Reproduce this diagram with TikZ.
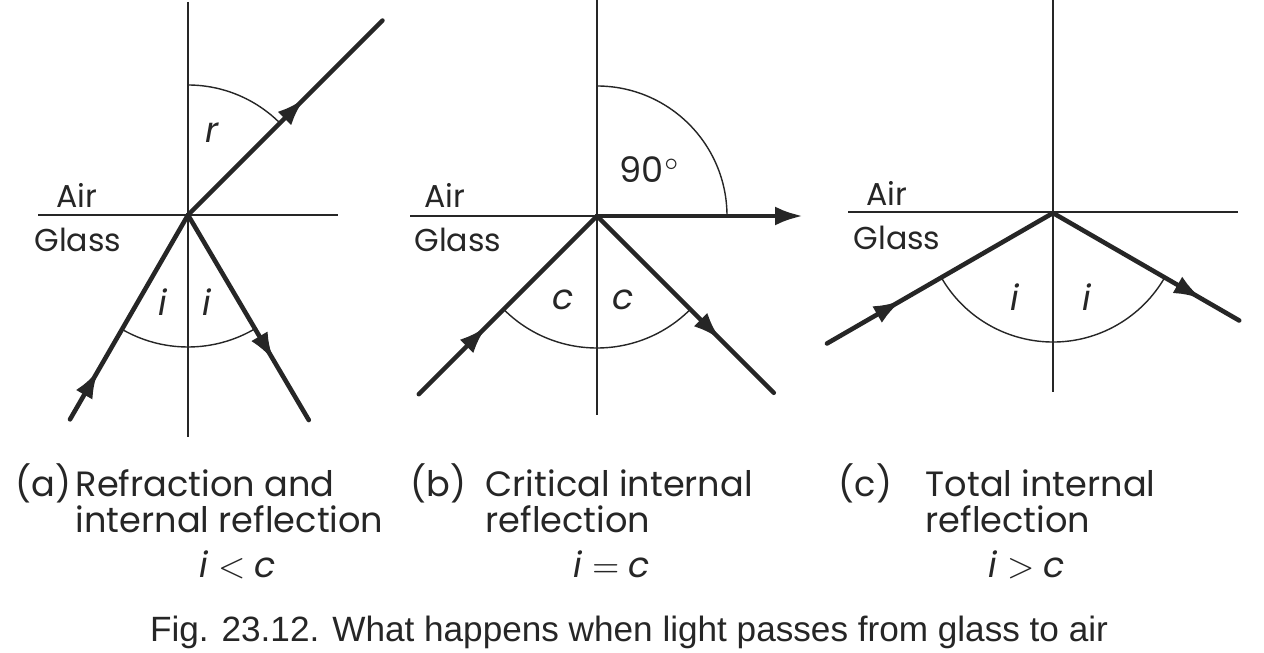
\documentclass[tikz,border=0pt]{standalone}
\usepackage{fontspec}
\setmainfont{Poppins}
\newfontfamily\capfont{Liberation Sans}
\usepackage{tikz}
\usetikzlibrary{calc,arrows.meta,decorations.markings}
\definecolor{paper}{HTML}{FFFFFF}
\definecolor{ink}{HTML}{262626}
\tikzset{
  normalLine/.style={draw=ink, line width=0.6pt},
  arcLine/.style={draw=ink, line width=0.4pt},
  rayLine/.style={draw=ink, line width=1.3pt, line cap=round},
  midArrow/.style={postaction={decorate}, decoration={markings,
    mark=at position #1 with {\arrow{Latex[length=2.8mm,width=1.9mm]}}}},
  lbl/.style={text=ink, font=\fontsize{10}{12}\selectfont, inner sep=0pt},
  mediumLbl/.style={text=ink, font=\fontsize{9}{11}\selectfont, inner sep=0pt},
  capLbl/.style={text=ink, font=\capfont\fontsize{10}{12}\selectfont, inner sep=0pt},
}
\begin{document}
\begin{tikzpicture}
  \useasboundingbox[fill=paper] (0,0) rectangle (12.64,6.52);

  % (a) refraction and internal reflection
  \coordinate (Oa) at (1.88,4.37);
  \draw[normalLine] (1.88,6.50) -- (1.88,2.15);
  \draw[normalLine] (0.38,4.37) -- (3.38,4.37);
  \draw[arcLine] ($(Oa)+(90:1.30)$) arc[start angle=90, end angle=45, radius=1.30];
  \draw[arcLine] ($(Oa)+(240:1.32)$) arc[start angle=240, end angle=300, radius=1.32];
  \draw[rayLine, midArrow=0.24] ($(Oa)+(240:2.36)$) -- (Oa);
  \draw[rayLine, midArrow=0.60] (Oa) -- ($(Oa)+(45:2.75)$);
  \draw[rayLine, midArrow=0.71] (Oa) -- ($(Oa)+(300.5:2.38)$);
  \node[mediumLbl] (airA)   at (0.77,4.57) {Air};
  \node[mediumLbl] (glassA) at (0.78,4.12) {Glass};
  \node[lbl] (rA)  at (2.12,5.19) {\textit{r}};
  \node[lbl] (iA1) at (1.63,3.50) {\textit{i}};
  \node[lbl] (iA2) at (2.07,3.50) {\textit{i}};

  % (b) critical internal reflection
  \coordinate (Ob) at (5.97,4.36);
  \draw[normalLine] (5.97,6.52) -- (5.97,2.37);
  \draw[normalLine] (4.10,4.36) -- (Ob);
  \draw[arcLine] ($(Ob)+(90:1.30)$) arc[start angle=90, end angle=0, radius=1.30];
  \draw[arcLine] ($(Ob)+(225:1.32)$) arc[start angle=225, end angle=315, radius=1.32];
  \draw[rayLine, midArrow=0.38] ($(Ob)+(225:2.52)$) -- (Ob);
  \draw[rayLine, -{Latex[length=2.8mm,width=1.9mm]}] (Ob) -- (8.03,4.36);
  \draw[rayLine, midArrow=0.70] (Ob) -- ($(Ob)+(315:2.50)$);
  \node[mediumLbl] (airB)   at (4.45,4.57) {Air};
  \node[mediumLbl] (glassB) at (4.58,4.12) {Glass};
  \node[lbl] (degB) at (6.50,4.82) {90$^\circ$};
  \node[lbl] (cB1) at (5.63,3.52) {\textit{c}};
  \node[lbl] (cB2) at (6.23,3.52) {\textit{c}};

  % (c) total internal reflection
  \coordinate (Oc) at (10.53,4.39);
  \draw[normalLine] (10.53,6.52) -- (10.53,2.60);
  \draw[normalLine] (8.48,4.40) -- (12.38,4.40);
  \draw[arcLine] ($(Oc)+(210:1.29)$) arc[start angle=210, end angle=330, radius=1.29];
  \draw[rayLine, midArrow=0.33] ($(Oc)+(210:2.61)$) -- (Oc);
  \draw[rayLine, midArrow=0.80] (Oc) -- ($(Oc)+(330:2.15)$);
  \node[mediumLbl] (airC)   at (8.87,4.59) {Air};
  \node[mediumLbl] (glassC) at (8.97,4.14) {Glass};
  \node[lbl] (iC1) at (10.15,3.55) {\textit{i}};
  \node[lbl] (iC2) at (10.87,3.55) {\textit{i}};

  % captions of the three cases
  \node[lbl, anchor=base west] (tagA)  at (0.15,1.55) {(a)};
  \node[lbl, anchor=base west] (txtA1) at (0.75,1.55) {Refraction and};
  \node[lbl, anchor=base west] (txtA2) at (0.75,1.20) {internal reflection};
  \node[lbl, anchor=base] (relA) at (2.38,0.75) {\textit{i} $<$ \textit{c}};

  \node[lbl, anchor=base west] (tagB)  at (4.10,1.55) {(b)};
  \node[lbl, anchor=base west] (txtB1) at (4.85,1.55) {Critical internal};
  \node[lbl, anchor=base west] (txtB2) at (4.85,1.20) {reflection};
  \node[lbl, anchor=base] (relB) at (6.12,0.75) {\textit{i} $=$ \textit{c}};

  \node[lbl, anchor=base west] (tagC)  at (8.38,1.55) {(c)};
  \node[lbl, anchor=base west] (txtC1) at (9.25,1.55) {Total internal};
  \node[lbl, anchor=base west] (txtC2) at (9.25,1.20) {reflection};
  \node[lbl, anchor=base] (relC) at (10.27,0.75) {\textit{i} $>$ \textit{c}};

  \node[capLbl, anchor=base] (figCap) at (6.29,0.11)
    {Fig. 23.12. What happens when light passes from glass to air};
\end{tikzpicture}
\end{document}
